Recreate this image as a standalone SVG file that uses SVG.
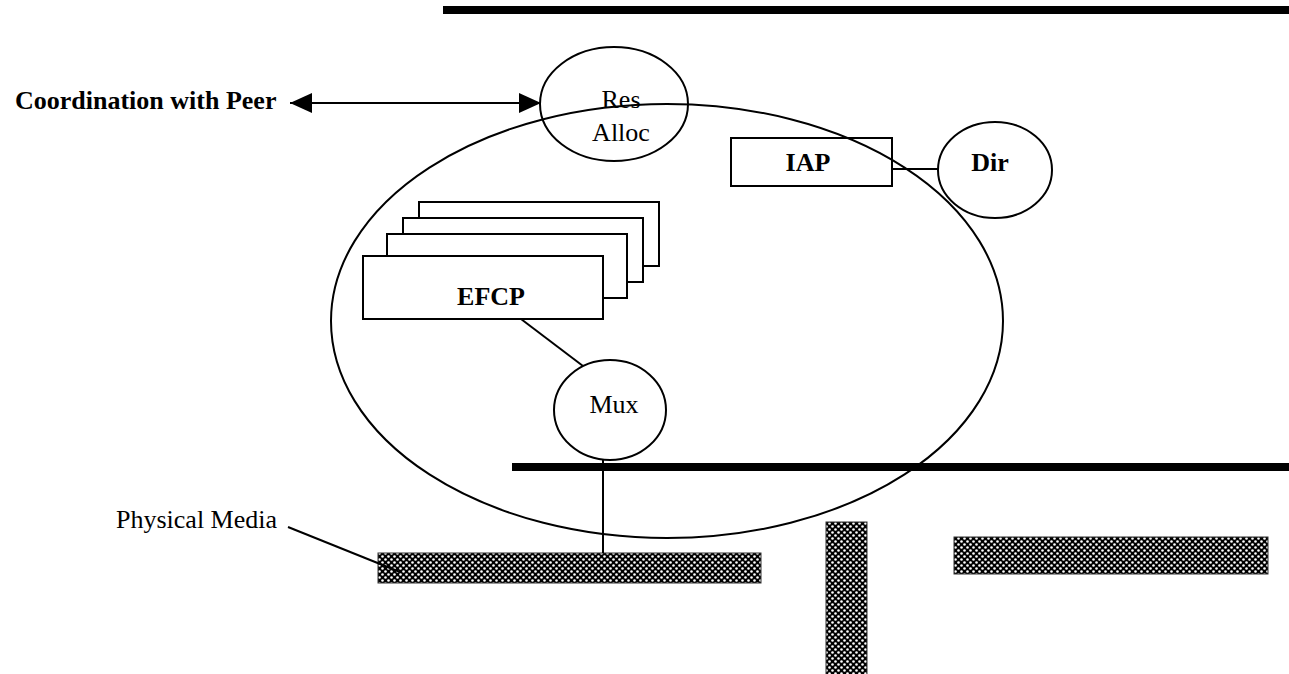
<svg xmlns="http://www.w3.org/2000/svg" width="1289" height="674" viewBox="0 0 1289 674">
<style>
.ln{stroke:#000;stroke-width:2;fill:none}
.sh{stroke:#000;stroke-width:2;fill:#fff}
.bar{fill:url(#chk);stroke:#333;stroke-width:1}
.tb{font-family:"Liberation Serif","Times New Roman",serif;font-size:26px;font-weight:bold;fill:#000}
.tr{font-family:"Liberation Serif","Times New Roman",serif;font-size:26px;fill:#000}
</style>
<defs>
<pattern id="chk" width="6" height="6" patternUnits="userSpaceOnUse">
<rect width="6" height="6" fill="#000"/>
<circle cx="1.5" cy="1.5" r="1.3" fill="#fff"/>
<circle cx="4.5" cy="4.5" r="1.3" fill="#fff"/>
</pattern>
<marker id="ah" viewBox="0 0 22 20" refX="22" refY="10" markerWidth="22" markerHeight="20" markerUnits="userSpaceOnUse" orient="auto-start-reverse">
<path d="M0,0 L22,10 L0,20 Z" fill="#000"/>
</marker>
</defs>
<g id="layers">
<rect x="443" y="6" width="846" height="8" fill="#000"/>
<rect x="512" y="463" width="777" height="8" fill="#000"/>
</g>
<g id="media">
<rect class="bar" x="378" y="553" width="383" height="30"/>
<rect class="bar" x="826" y="522" width="41" height="160"/>
<rect class="bar" x="954" y="537" width="314" height="37"/>
</g>
<g id="ipc">
<ellipse cx="667" cy="321" rx="336" ry="217" class="ln"/>
</g>
<g id="connectors">
<line class="ln" x1="290" y1="103" x2="541" y2="103" marker-start="url(#ah)" marker-end="url(#ah)"/>
<line class="ln" x1="892" y1="169" x2="938" y2="169"/>
<line class="ln" x1="521" y1="319" x2="583" y2="366"/>
<line class="ln" x1="603" y1="459" x2="603" y2="553"/>
<line class="ln" x1="288" y1="527" x2="400" y2="572"/>
</g>
<g id="resalloc">
<ellipse cx="614" cy="104" rx="74" ry="57" class="ln"/>
<text class="tr" x="621" y="108" text-anchor="middle">Res</text>
<text class="tr" x="621" y="141" text-anchor="middle">Alloc</text>
</g>
<g id="iap">
<rect class="ln" x="731" y="138" width="161" height="48"/>
<text class="tb" x="808" y="171" text-anchor="middle">IAP</text>
</g>
<g id="dir">
<ellipse class="ln" cx="995" cy="170" rx="57" ry="48"/>
<text class="tb" x="990" y="171" text-anchor="middle">Dir</text>
</g>
<g id="efcp">
<rect class="sh" x="419" y="202" width="240" height="64"/>
<rect class="sh" x="403" y="218" width="240" height="64"/>
<rect class="sh" x="387" y="234" width="240" height="64"/>
<rect class="sh" x="363" y="256" width="240" height="63"/>
<text class="tb" x="491" y="305" text-anchor="middle">EFCP</text>
</g>
<g id="mux">
<ellipse class="sh" cx="610" cy="410" rx="56" ry="50"/>
<text class="tr" x="614" y="413" text-anchor="middle">Mux</text>
</g>
<g id="labels">
<text class="tb" x="15" y="109">Coordination with Peer</text>
<text class="tr" x="116" y="528">Physical Media</text>
</g>
</svg>
